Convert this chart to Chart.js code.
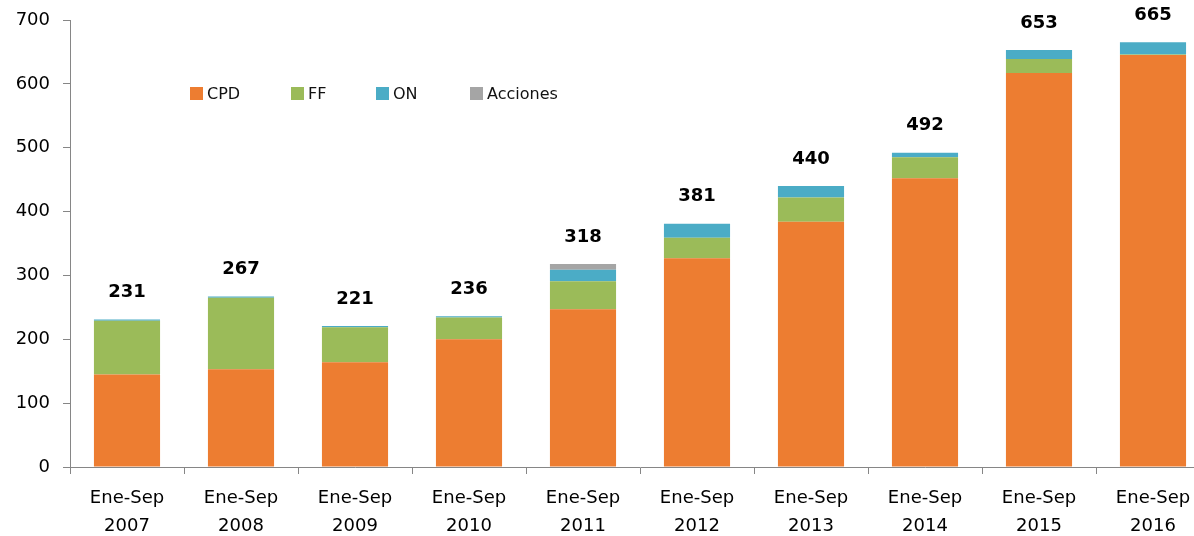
<!DOCTYPE html>
<html>
<head>
<meta charset="utf-8">
<script src="https://cdn.jsdelivr.net/npm/chart.js@4.4.1/dist/chart.umd.min.js"></script>
<style>
  body { margin: 0; overflow: hidden; background: #fff; }
  #wrap { position: relative; width: 1210px; height: 536px; }
  .legend { position: absolute; top: 85px; left: 190px; font: 16px "DejaVu Sans", sans-serif; color: #111; }
  .legend span { position: absolute; white-space: nowrap; line-height: 18px; }
  .legend i { display: inline-block; width: 13px; height: 13px; margin-right: 4px; vertical-align: -1px; }
</style>
</head>
<body>
<div id="wrap">
  <canvas id="chart"></canvas>
  <div class="legend" id="legend"></div>
</div>
<script>
// Categories (two-line tick labels)
const periods = ["2007", "2008", "2009", "2010", "2011", "2012", "2013", "2014", "2015", "2016"];
const labels = periods.map(y => ["Ene-Sep", y]);

// Series values (null = no segment)
const cpd      = [145, 153, 164, 200, 247, 327, 384, 452, 617, 645];
const ff       = [ 84, 112,  55,  34,  44,  32,  38,  33,  22,   1];
const on       = [  2,   2,   2,   2,  18,  22,  18,   7,  14,  19];
const acciones = [null, null, null, null, 9, null, null, null, null, null];

const yTicks = [0, 100, 200, 300, 400, 500, 600, 700];

const seriesNames  = ["CPD", "FF", "ON", "Acciones"];
const seriesColors = ["#ED7D31", "#9BBB59", "#4BACC6", "#A5A5A5"];
const seriesData   = [cpd, ff, on, acciones];

// Legend placed inside the plot, like the original
const legendOffsets = [0, 101, 186, 280];
const legendBox = document.getElementById("legend");
seriesNames.forEach((name, i) => {
  const s = document.createElement("span");
  s.style.left = legendOffsets[i] + "px";
  s.innerHTML = '<i style="background:' + seriesColors[i] + '"></i>' + name;
  legendBox.appendChild(s);
});

// Draw the total above every stacked bar
const totalsPlugin = {
  id: "totals",
  afterDatasetsDraw(chart) {
    const ctx = chart.ctx;
    const x = chart.scales.x;
    const y = chart.scales.y;
    ctx.save();
    ctx.font = 'bold 18px "DejaVu Sans", sans-serif';
    ctx.fillStyle = "#000";
    ctx.textAlign = "center";
    ctx.textBaseline = "middle";
    labels.forEach((_, i) => {
      const total = seriesData.reduce((sum, arr) => sum + (arr[i] || 0), 0);
      ctx.fillText(String(total), x.getPixelForValue(i), y.getPixelForValue(total) - 27);
    });
    ctx.restore();
  }
};

const axisGrey = "#868686";

new Chart(document.getElementById("chart"), {
  type: "bar",
  data: {
    labels: labels,
    datasets: seriesNames.map((name, i) => ({
      label: name,
      data: seriesData[i],
      backgroundColor: seriesColors[i],
      borderWidth: 0,
      barPercentage: 0.58,
      categoryPercentage: 1
    }))
  },
  options: {
    responsive: true,
    maintainAspectRatio: false,
    animation: false,
    layout: { padding: { top: 20, left: 0, right: 0, bottom: 0 } },
    plugins: {
      legend: { display: false },
      tooltip: { enabled: false }
    },
    scales: {
      x: {
        stacked: true,
        border: { color: axisGrey, width: 1 },
        grid: { offset: true, drawOnChartArea: false, drawTicks: true, tickLength: 7, color: axisGrey },
        ticks: {
          color: "#000",
          padding: 10,
          maxRotation: 0,
          autoSkip: false,
          font: { family: '"DejaVu Sans", sans-serif', size: 18, lineHeight: 1.55 }
        },
        afterFit(scale) { scale.height = 69; }
      },
      y: {
        stacked: true,
        min: 0,
        max: 700,
        border: { color: axisGrey, width: 1 },
        grid: { drawOnChartArea: false, drawTicks: true, tickLength: 7, color: axisGrey },
        afterBuildTicks(scale) { scale.ticks = yTicks.map(v => ({ value: v })); },
        ticks: {
          color: "#000",
          padding: 13,
          font: { family: '"DejaVu Sans", sans-serif', size: 18 }
        },
        afterFit(scale) {
          scale.width = 70;
          scale.paddingTop = 0;
          scale.paddingBottom = 0;
        }
      }
    }
  },
  plugins: [totalsPlugin]
});
</script>
</body>
</html>
